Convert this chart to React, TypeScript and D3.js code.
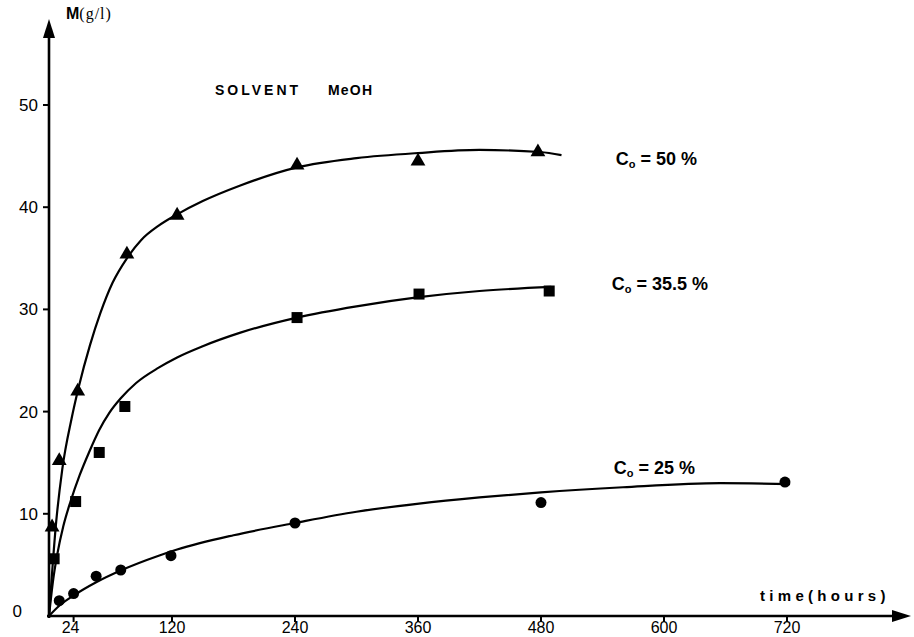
import * as d3 from "d3";
import { useEffect, useRef } from "react";

// ---- data (time in hours, M in g/l) ----
const xTicks = [24, 120, 240, 360, 480, 600, 720];
const yTicks = [0, 10, 20, 30, 40, 50];

// measured points
const tri50 = [[3, 8.6], [10, 15.1], [28, 21.9], [76, 35.3], [125, 39.1], [242, 44.0], [360, 44.4], [477, 45.3]];
const sq355 = [[5, 5.6], [26, 11.2], [49, 16.0], [74, 20.5], [242, 29.2], [361, 31.5], [488, 31.8]];
const dot25 = [[10, 1.5], [24, 2.2], [46, 3.9], [70, 4.5], [119, 5.9], [240, 9.1], [480, 11.1], [718, 13.1]];

// fitted curves drawn through the points
const fit50 = [[0, 0], [7, 9.2], [13, 14.4], [22, 19.3], [29, 22.4], [40, 26.5], [50, 29.6], [62, 32.6], [76, 35.0], [90, 36.8], [107, 38.2], [125, 39.3], [150, 40.6], [186, 42.1], [242, 43.9], [300, 44.8], [360, 45.3], [420, 45.6], [479, 45.4], [500, 45.1]];
const fit355 = [[0, 0], [4, 3.5], [8, 6.0], [14, 8.8], [21, 11.2], [30, 13.8], [39, 16.0], [49, 18.2], [59, 19.9], [70, 21.3], [85, 22.8], [107, 24.3], [125, 25.3], [150, 26.4], [186, 27.7], [242, 29.2], [300, 30.3], [361, 31.2], [420, 31.8], [490, 32.2]];
const fit25 = [[0, 0], [10, 1.0], [24, 2.0], [46, 3.3], [71, 4.5], [107, 5.9], [125, 6.5], [180, 7.9], [240, 9.1], [300, 10.2], [361, 11.0], [420, 11.6], [480, 12.1], [560, 12.6], [655, 13.0], [723, 12.9]];

const curveLabels = [
  { txt: "50 %", at: [553, 44.1] },
  { txt: "35.5 %", at: [549, 31.9] },
  { txt: "25 %", at: [551, 13.9] },
];

export default function App() {
  const ref = useRef<SVGSVGElement>(null);

  useEffect(() => {
    document.body.style.margin = "0";
    const width = 914;
    const height = 637;

    const svg = d3.select(ref.current);
    svg.selectAll("*").remove();
    svg.attr("viewBox", `0 0 ${width} ${height}`);

    const x = d3.scaleLinear().domain([0, 720]).range([49, 787]);
    const y = d3.scaleLinear().domain([0, 50]).range([616, 105]);
    const x0 = x(0);
    const y0 = y(0);
    const sans = "Liberation Sans, Arial, sans-serif";

    svg.append("rect").attr("width", width).attr("height", height).attr("fill", "#fff");

    // ---- axes ----
    svg.append("line").attr("x1", x0).attr("x2", x0).attr("y1", y0 + 2).attr("y2", 34)
      .attr("stroke", "#000").attr("stroke-width", 2.6);
    svg.append("path").attr("d", `M${x0 - 6},38 L${x0},19 L${x0 + 6},38 Z`).attr("fill", "#000");

    svg.append("line").attr("x1", x0 - 2).attr("x2", 895).attr("y1", y0).attr("y2", y0)
      .attr("stroke", "#000").attr("stroke-width", 2.6);
    svg.append("path").attr("d", `M892,${y0 - 6} L911,${y0} L892,${y0 + 6} Z`).attr("fill", "#000");

    // y ticks
    const yt = svg.append("g");
    yt.selectAll("line").data(yTicks.filter((d) => d > 0)).join("line")
      .attr("x1", x0 - 6).attr("x2", x0).attr("y1", (d) => y(d)).attr("y2", (d) => y(d))
      .attr("stroke", "#000").attr("stroke-width", 2);
    yt.selectAll("text").data(yTicks).join("text")
      .attr("x", (d) => (d === 0 ? 22 : 38))
      .attr("y", (d) => y(d) + (d === 0 ? 1 : 6))
      .attr("text-anchor", "end")
      .attr("font-family", sans)
      .attr("font-size", 17)
      .text((d) => d);

    // x ticks
    const xt = svg.append("g");
    xt.selectAll("line").data(xTicks).join("line")
      .attr("x1", (d) => x(d)).attr("x2", (d) => x(d)).attr("y1", y0).attr("y2", y0 + 6)
      .attr("stroke", "#000").attr("stroke-width", 2);
    xt.selectAll("text").data(xTicks).join("text")
      .attr("x", (d) => x(d) - (d === 24 ? 3 : 0))
      .attr("y", 633)
      .attr("text-anchor", "middle")
      .attr("font-family", sans)
      .attr("font-size", 16)
      .text((d) => d);

    // ---- curves ----
    const line = d3.line<number[]>()
      .x((d) => x(d[0]))
      .y((d) => y(d[1]))
      .curve(d3.curveMonotoneX);
    [fit50, fit355, fit25].forEach((c) => {
      svg.append("path").attr("d", line(c)).attr("fill", "none")
        .attr("stroke", "#000").attr("stroke-width", 2.2);
    });

    // ---- markers ----
    svg.append("g").selectAll("path").data(tri50).join("path")
      .attr("d", d3.symbol(d3.symbolTriangle, 95)())
      .attr("transform", (d) => `translate(${x(d[0])},${y(d[1]) - 1})`)
      .attr("fill", "#000");
    svg.append("g").selectAll("rect").data(sq355).join("rect")
      .attr("x", (d) => x(d[0]) - 5.5).attr("y", (d) => y(d[1]) - 5.5)
      .attr("width", 11).attr("height", 11).attr("fill", "#000");
    svg.append("g").selectAll("circle").data(dot25).join("circle")
      .attr("cx", (d) => x(d[0])).attr("cy", (d) => y(d[1])).attr("r", 5.5).attr("fill", "#000");

    // ---- curve labels ----
    curveLabels.forEach((l) => {
      const t = svg.append("text")
        .attr("x", x(l.at[0]))
        .attr("y", y(l.at[1]))
        .attr("font-family", sans)
        .attr("font-size", 18)
        .attr("font-weight", 700);
      t.append("tspan").text("C");
      t.append("tspan").attr("font-size", 11).attr("dy", 3).text("o");
      t.append("tspan").attr("dy", -3).text(` = ${l.txt}`);
    });

    // ---- titles ----
    const mt = svg.append("text").attr("x", 66).attr("y", 19);
    mt.append("tspan").attr("font-family", sans)
      .attr("font-weight", 700).attr("font-size", 16).text("M");
    mt.append("tspan").attr("font-family", "Liberation Serif, serif")
      .attr("font-size", 16).attr("letter-spacing", 1).text("(g/l)");

    const title = svg.append("text").attr("y", 95)
      .attr("font-family", sans)
      .attr("font-weight", 700).attr("font-size", 14);
    title.append("tspan").attr("x", 215).attr("letter-spacing", 3).text("SOLVENT");
    title.append("tspan").attr("x", 328).attr("letter-spacing", 1.2).text("MeOH");

    svg.append("text").attr("x", 760).attr("y", 601)
      .attr("font-family", sans)
      .attr("font-weight", 700).attr("font-size", 15).attr("letter-spacing", 4.3)
      .text("time(hours)");
  }, []);

  return <svg ref={ref} width={914} height={637} style={{ display: "block" }} />;
}
